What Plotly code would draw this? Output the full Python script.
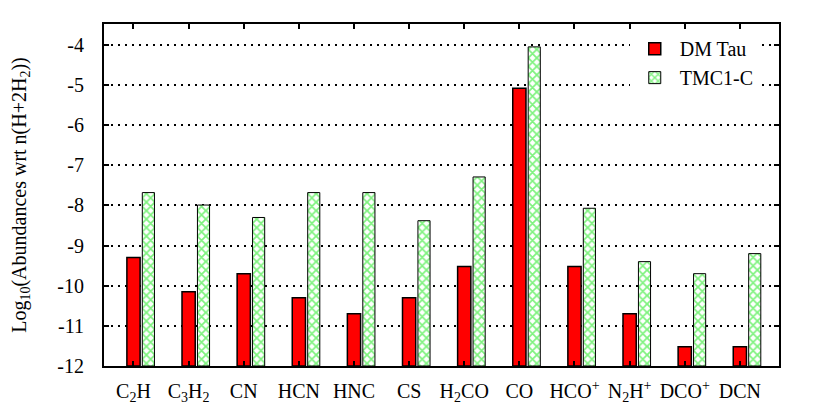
import plotly.graph_objects as go

molecules = ["C<sub>2</sub>H", "C<sub>3</sub>H<sub>2</sub>", "CN", "HCN", "HNC", "CS",
             "H<sub>2</sub>CO", "CO", "HCO<sup>+</sup>", "N<sub>2</sub>H<sup>+</sup>",
             "DCO<sup>+</sup>", "DCN"]
dm_tau = [-9.3, -10.15, -9.7, -10.3, -10.7, -10.3, -9.52, -5.08, -9.52, -10.7, -11.52, -11.52]
tmc1c = [-7.68, -7.99, -8.3, -7.68, -7.68, -8.38, -7.29, -4.05, -8.07, -9.4, -9.7, -9.2]
y_ticks = [-12, -11, -10, -9, -8, -7, -6, -5, -4]
floor = -12

idx = list(range(len(molecules)))

fig = go.Figure()
fig.add_trace(go.Bar(
    x=idx, y=[v - floor for v in dm_tau], base=[floor] * len(idx),
    name="DM Tau", width=0.24, offset=-0.12,
    marker=dict(color="#ff0000", line=dict(color="black", width=1.5)),
))
fig.add_trace(go.Bar(
    x=idx, y=[v - floor for v in tmc1c], base=[floor] * len(idx),
    name="TMC1-C", width=0.22, offset=0.16,
    marker=dict(color="white", line=dict(color="black", width=1),
                pattern=dict(shape="x", fgcolor="#00e600", bgcolor="white", size=6, solidity=0.5)),
))

font = "Liberation Serif, Times New Roman, serif"
fig.update_layout(
    width=809, height=401,
    margin=dict(l=96, r=38, t=16, b=43),
    plot_bgcolor="white", paper_bgcolor="white",
    barmode="overlay",
    font=dict(family=font, size=20, color="black"),
    showlegend=True,
    legend=dict(x=0.97, y=0.985, xanchor="right", yanchor="top", bgcolor="white",
                font=dict(family=font, size=20), tracegroupgap=0, itemwidth=40),
    xaxis=dict(range=[-0.535, 11.71], tickmode="array", tickvals=idx, ticktext=molecules,
               showline=True, linecolor="black", linewidth=2, mirror="ticks",
               ticks="inside", ticklen=5, tickcolor="black", tickwidth=2,
               ticklabelstandoff=6, automargin=False,
               showgrid=False, zeroline=False, tickfont=dict(size=20)),
    yaxis=dict(range=[-12, -3.48], tickmode="array", tickvals=y_ticks,
               ticktext=[str(t) for t in y_ticks],
               showline=True, linecolor="black", linewidth=2, mirror="ticks",
               ticks="inside", ticklen=5, tickcolor="black", tickwidth=2,
               ticklabelstandoff=14, automargin=False,
               showgrid=True, gridcolor="black", griddash="2px,5px", gridwidth=2,
               zeroline=False, tickfont=dict(size=20),
               title=dict(text="Log<sub>10</sub>(Abundances wrt n(H+2H<sub>2</sub>))",
                          font=dict(size=20), standoff=26)),
)
fig.write_html("out.html")
